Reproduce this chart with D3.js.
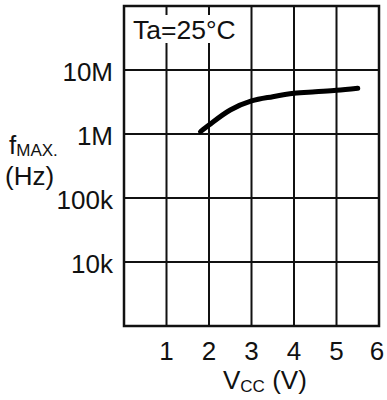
<!DOCTYPE html>
<html><head><meta charset="utf-8">
<script src="https://cdn.jsdelivr.net/npm/d3@7"></script>
<style>body{margin:0;background:#fff}svg{display:block}text{font-family:Arial,"Liberation Sans",sans-serif;fill:#111}</style>
</head><body><svg id="c" width="387" height="400"></svg>
<script>
const vcc = [1.8, 2, 2.5, 3, 3.5, 4, 4.5, 5, 5.5];
const fmax = [1.09e6, 1.38e6, 2.37e6, 3.28e6, 3.83e6, 4.32e6, 4.57e6, 4.82e6, 5.18e6];
const xTicks = [1, 2, 3, 4, 5, 6];
const yTicks = [1e4, 1e5, 1e6, 1e7];
const yTickLabels = ["10k", "100k", "1M", "10M"];

const svg = d3.select("#c");
const x = d3.scaleLinear().domain([0, 6]).range([124, 379]);
const y = d3.scaleLog().domain([1e3, 1e8]).range([326, 6]);

const g = svg.append("g");
g.selectAll(".vg").data(xTicks.slice(0, 5)).join("line")
  .attr("x1", d => x(d)).attr("x2", d => x(d)).attr("y1", y(1e8)).attr("y2", y(1e3))
  .attr("stroke", "#111").attr("stroke-width", 2);
g.selectAll(".hg").data(yTicks).join("line")
  .attr("x1", x(0)).attr("x2", x(6)).attr("y1", d => y(d)).attr("y2", d => y(d))
  .attr("stroke", "#111").attr("stroke-width", 2);

svg.append("rect").attr("x", 127).attr("y", 15).attr("width", 120).attr("height", 28).attr("fill", "#fff");
svg.append("text").attr("x", 133).attr("y", 39).attr("font-size", 26.5).text("Ta=25°C");

svg.append("rect").attr("x", x(0)).attr("y", y(1e8)).attr("width", x(6) - x(0)).attr("height", y(1e3) - y(1e8))
  .attr("fill", "none").attr("stroke", "#111").attr("stroke-width", 2.5);

const line = d3.line().x((d, i) => x(vcc[i])).y(d => y(d)).curve(d3.curveMonotoneX);
svg.append("path").attr("d", line(fmax)).attr("fill", "none").attr("stroke", "#000")
  .attr("stroke-width", 5).attr("stroke-linecap", "round");

svg.selectAll(".yl").data(yTicks).join("text")
  .attr("x", 113).attr("y", d => y(d)).attr("dy", "0.42em").attr("text-anchor", "end")
  .attr("font-size", 26).text((d, i) => yTickLabels[i]);
svg.selectAll(".xl").data(xTicks).join("text")
  .attr("x", d => x(d) - (d === 6 ? 2 : 0)).attr("y", 360).attr("text-anchor", "middle")
  .attr("font-size", 26).text(d => d);

const yt = svg.append("text").attr("x", 9).attr("y", 154).attr("font-size", 26);
yt.append("tspan").text("f");
yt.append("tspan").attr("font-size", 17).attr("dy", 2).text("MAX.");
svg.append("text").attr("x", 5).attr("y", 185).attr("font-size", 26).text("(Hz)");

const xt = svg.append("text").attr("x", 223).attr("y", 389).attr("font-size", 26);
xt.append("tspan").text("V");
xt.append("tspan").attr("font-size", 17).attr("dy", 3).text("CC");
xt.append("tspan").attr("dy", -3).text(" (V)");
</script></body></html>
